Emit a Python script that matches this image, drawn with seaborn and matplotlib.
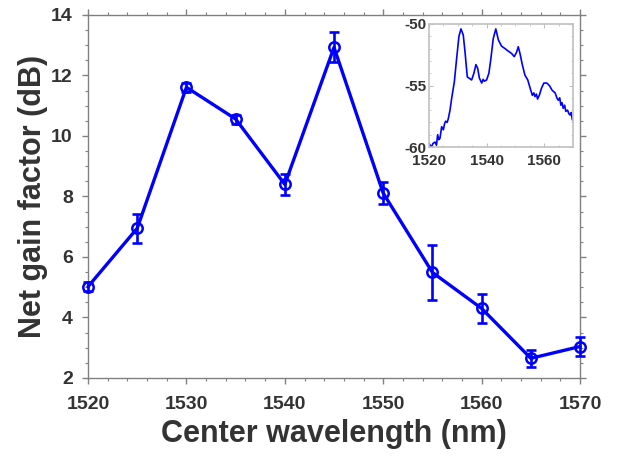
import numpy as np
import pandas as pd
import matplotlib
matplotlib.use("Agg")
import matplotlib.pyplot as plt
import seaborn as sns

# Main data
wavelength = [1520, 1525, 1530, 1535, 1540, 1545, 1550, 1555, 1560, 1565, 1570]
gain = [5.02, 6.95, 11.61, 10.56, 8.40, 12.93, 8.11, 5.49, 4.30, 2.65, 3.04]
gain_err = [0.15, 0.48, 0.15, 0.15, 0.34, 0.50, 0.37, 0.90, 0.47, 0.29, 0.30]

# Inset spectrum
spec_wl = [1520.0, 1520.5, 1520.9, 1521.4, 1522.1, 1522.6, 1523.0, 1523.4, 1523.8,
           1524.4, 1525.0, 1525.4, 1525.8, 1526.3, 1526.7, 1527.3, 1527.9, 1528.8,
           1529.6, 1530.4, 1531.1, 1531.9, 1532.5, 1533.3, 1533.9, 1534.8, 1535.6,
           1536.3, 1536.9, 1537.5, 1538.3, 1538.8, 1539.2, 1540.0, 1540.8, 1541.5,
           1542.3, 1543.2, 1544.1, 1545.2, 1546.4, 1547.5, 1548.7, 1549.6, 1550.4,
           1551.0, 1551.6, 1552.4, 1553.3, 1554.3, 1555.1, 1555.9, 1556.4, 1556.8,
           1557.3, 1557.7, 1558.3, 1559.1, 1559.9, 1560.9, 1561.8, 1562.8, 1563.8,
           1564.4, 1564.9, 1565.4, 1565.8, 1566.2, 1566.6, 1567.1, 1567.5, 1568.1,
           1568.6, 1569.0, 1569.4, 1569.8, 1570.0]
spec_db = [-59.7, -59.9, -59.97, -59.7, -59.6, -59.85, -59.0, -59.4, -59.3,
           -58.35, -58.6, -58.1, -57.9, -58.0, -57.7, -57.0, -56.0, -54.7,
           -52.8, -51.0, -50.4, -50.9, -52.25, -54.3, -54.4, -54.55, -54.0,
           -53.3, -53.6, -54.4, -54.8, -54.5, -54.65, -54.55, -54.0, -52.8,
           -51.2, -50.4, -51.3, -51.8, -52.0, -52.2, -52.4, -52.65, -52.3,
           -51.85, -52.4, -53.3, -54.15, -54.55, -55.2, -55.8, -55.6, -55.9,
           -55.7, -56.1, -55.8, -55.2, -54.8, -54.8, -55.0, -55.4, -55.6,
           -56.0, -56.2, -56.0, -56.6, -56.4, -56.85, -56.6, -57.1, -57.0,
           -57.3, -57.4, -57.2, -57.8, -57.75]

main_df = pd.DataFrame({"wl": wavelength, "gain": gain, "err": gain_err})
spec_df = pd.DataFrame({"wl": spec_wl, "db": spec_db})

sns.set_style("ticks")
plt.rcParams["font.family"] = ["Liberation Sans", "DejaVu Sans"]
plt.rcParams["font.weight"] = "bold"
plt.rcParams["axes.unicode_minus"] = False

BLUE = "#0000ff"
GRAY = "#808080"
TXT = "#333333"

fig = plt.figure(figsize=(6.23, 4.57), dpi=100)
ax = fig.add_axes([0.1413, 0.1729, 0.7897, 0.7943])

eb = ax.errorbar(main_df["wl"], main_df["gain"], yerr=main_df["err"], fmt="none",
                 ecolor=BLUE, elinewidth=1.9, capsize=3.5, capthick=1.9, zorder=3)
for art in eb.lines[1] + eb.lines[2]:
    art.set_clip_on(False)
sns.lineplot(data=main_df, x="wl", y="gain", ax=ax, color=BLUE, linewidth=2.4,
             marker="o", markersize=7.5, markerfacecolor="none",
             markeredgecolor=BLUE, markeredgewidth=1.8, zorder=4, clip_on=False)

ax.set_xlim(1520, 1570)
ax.set_ylim(2, 14)
ax.set_xticks([1520, 1530, 1540, 1550, 1560, 1570])
ax.set_yticks([2, 4, 6, 8, 10, 12, 14])
ax.set_xticks(np.arange(1520, 1571, 2), minor=True)
ax.set_yticks(np.arange(2, 14.01, 0.5), minor=True)
for s in ax.spines.values():
    s.set_color(GRAY)
    s.set_linewidth(1.0)
ax.tick_params(which="both", direction="out", top=True, right=True, color=GRAY)
ax.tick_params(which="major", length=4, width=1.0, labelsize=14, labelcolor=TXT)
ax.tick_params(axis="x", which="major", pad=9)
ax.tick_params(axis="y", which="major", pad=7)
ax.tick_params(which="minor", length=2.5, width=0.8)
for lab in ax.get_xticklabels() + ax.get_yticklabels():
    lab.set_fontweight("bold")
ax.set_xlabel("Center wavelength (nm)", fontsize=22, fontweight="bold", color=TXT, labelpad=4)
ax.set_ylabel("Net gain factor (dB)", fontsize=22, fontweight="bold", color=TXT, labelpad=2)

# Inset
ins = fig.add_axes([0.6886, 0.6783, 0.2311, 0.2692])
sns.lineplot(data=spec_df, x="wl", y="db", ax=ins, color=BLUE, linewidth=1.2)
ins.set_xlim(1520, 1570)
ins.set_ylim(-60, -50)
ins.set_xticks([1520, 1540, 1560])
ins.set_yticks([-60, -55, -50])
ins.set_xticks(np.arange(1520, 1571, 5), minor=True)
ins.set_yticks(np.arange(-60, -49.9, 1), minor=True)
ins.set_xlabel("")
ins.set_ylabel("")
for s in ins.spines.values():
    s.set_color("#c0c0c0")
    s.set_linewidth(1.2)
ins.tick_params(which="both", direction="in", top=True, right=True, color="#c0c0c0")
ins.tick_params(which="major", length=3, labelsize=11, labelcolor=TXT)
ins.tick_params(axis="x", which="major", pad=5)
ins.tick_params(axis="y", which="major", pad=2)
ins.tick_params(which="minor", length=1.5)
for lab in ins.get_xticklabels() + ins.get_yticklabels():
    lab.set_fontweight("bold")

fig.savefig("out.png", dpi=100)
